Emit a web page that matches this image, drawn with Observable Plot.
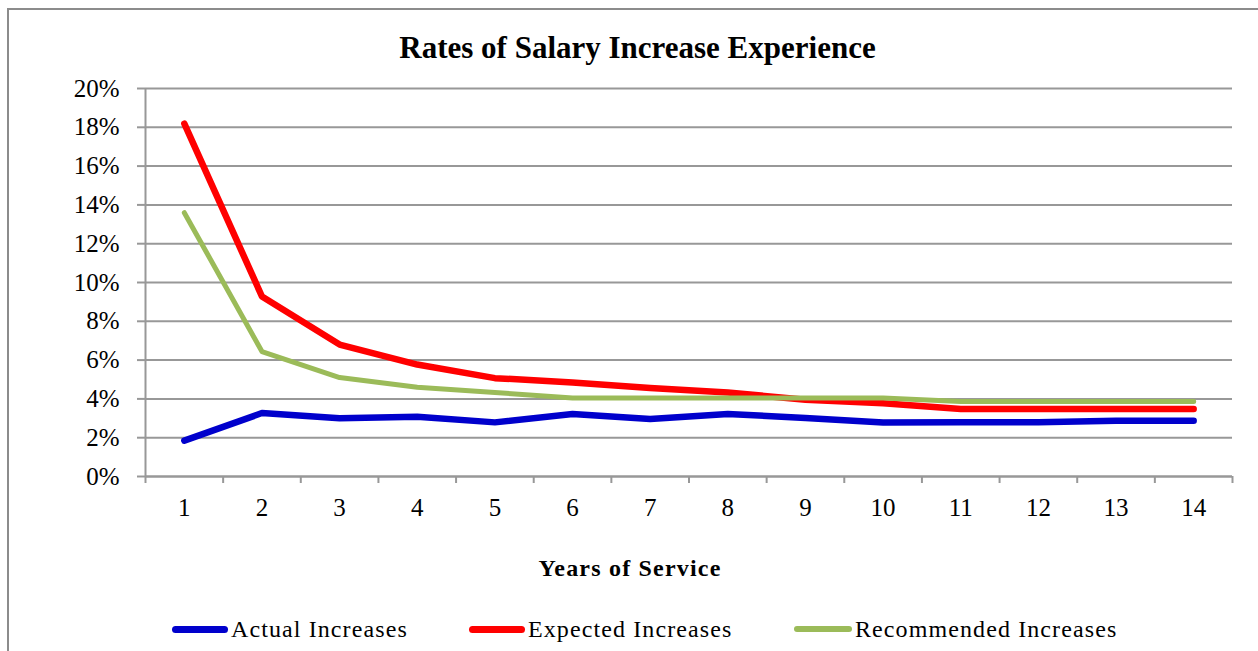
<!DOCTYPE html>
<html>
<head>
<meta charset="utf-8">
<script src="https://cdn.jsdelivr.net/npm/d3@7"></script>
<script src="https://cdn.jsdelivr.net/npm/@observablehq/plot@0.6"></script>
<style>
  html, body { margin: 0; padding: 0; background: #fff; overflow: hidden; }
  body { width: 1258px; height: 651px; position: relative; font-family: "Liberation Serif", "Times New Roman", serif; }
  #border { position: absolute; left: 7px; top: 8px; width: 1270px; height: 700px; border: 2px solid #8c8c8c; box-sizing: border-box; }
  #title { position: absolute; left: 0; width: 1275px; top: 29px; text-align: center; font-weight: bold; font-size: 31px; line-height: 38px; color: #000; }
  #chart { position: absolute; left: 0; top: 70px; }
  #legend { position: absolute; top: 614px; left: 0; height: 30px; font-size: 24px; color: #000; }
  .item { position: absolute; top: 0; white-space: nowrap; display: flex; align-items: center; height: 30px; }
  .tx { letter-spacing: 1.1px; }
  .sw { display: inline-block; height: 7px; border-radius: 4px; margin-right: 3px; }
</style>
</head>
<body>
<div id="border"></div>
<div id="title">Rates of Salary Increase Experience</div>
<div id="chart"></div>
<div id="legend"></div>
<script>
const years = [1, 2, 3, 4, 5, 6, 7, 8, 9, 10, 11, 12, 13, 14];
const actual = [0.0185, 0.0327, 0.0300, 0.0308, 0.0279, 0.0322, 0.0297, 0.0322, 0.0302, 0.0278, 0.0279, 0.0279, 0.0288, 0.0288];
const expected = [0.1819, 0.0928, 0.0680, 0.0577, 0.0507, 0.0485, 0.0456, 0.0433, 0.0396, 0.0377, 0.0348, 0.0348, 0.0348, 0.0348];
const recommended = [0.1360, 0.0644, 0.0510, 0.0460, 0.0433, 0.0405, 0.0405, 0.0405, 0.0405, 0.0405, 0.0386, 0.0386, 0.0386, 0.0386];
const seriesNames = ["Actual Increases", "Expected Increases", "Recommended Increases"];
const seriesColors = ["#0000CC", "#FF0000", "#9BBB59"];
const seriesWidths = [6.5, 6.5, 5];
const yTicks = [0, 0.02, 0.04, 0.06, 0.08, 0.10, 0.12, 0.14, 0.16, 0.18, 0.20];
const xLabel = "Years of Service";

const seriesValues = [actual, expected, recommended];
const rows = [];
seriesNames.forEach((name, i) => {
  years.forEach((yr, j) => rows.push({ series: name, year: yr, value: seriesValues[i][j] }));
});
const xDomain = [years[0] - 0.5, years[years.length - 1] + 0.5];
const boundaries = years.map(d => d - 0.5).concat([years[years.length - 1] + 0.5]);
const gridColor = "#989898";
const font = "'Liberation Serif', 'Times New Roman', serif";

const plot = Plot.plot({
  width: 1258,
  height: 530,
  marginLeft: 145,
  marginRight: 26,
  marginTop: 18,
  marginBottom: 124,
  style: { fontFamily: font, fontSize: "25px", color: "#000", background: "transparent" },
  x: { domain: xDomain },
  y: { domain: [yTicks[0], yTicks[yTicks.length - 1]] },
  marks: [
    Plot.gridY(yTicks, { stroke: gridColor, strokeOpacity: 1, strokeWidth: 2 }),
    Plot.ruleX([xDomain[0]], { stroke: gridColor, strokeWidth: 2 }),
    Plot.ruleY([yTicks[0]], { stroke: gridColor, strokeWidth: 2 }),
    Plot.axisY({ ticks: yTicks, tickFormat: d3.format(".0%"), tickSize: 8, tickPadding: 18, stroke: gridColor, strokeWidth: 2, label: null, fontSize: 25 }),
    Plot.axisX({ ticks: boundaries, tickSize: 7, tickFormat: () => "", stroke: gridColor, strokeWidth: 2, label: null }),
    Plot.axisX({ ticks: years, tickSize: 0, tickPadding: 22, tickFormat: d => String(d), label: xLabel, labelAnchor: "center", labelOffset: 99, fontSize: 25 }),
    Plot.line(rows, {
      x: "year", y: "value", z: "series",
      stroke: d => seriesColors[seriesNames.indexOf(d.series)],
      strokeWidth: d => seriesWidths[seriesNames.indexOf(d.series)],
      strokeLinecap: "round", strokeLinejoin: "round"
    })
  ]
});
document.getElementById("chart").appendChild(plot);

// Axis label: bold, without the automatic arrow, centred on the chart box like the reference
plot.querySelectorAll("text").forEach(t => {
  if (t.textContent.trim().startsWith(xLabel)) {
    t.textContent = xLabel;
    t.setAttribute("font-weight", "bold");
    t.setAttribute("font-size", "24");
    t.setAttribute("letter-spacing", "1.2");
    t.setAttribute("dx", "-59");
  }
});

const legend = document.getElementById("legend");
const lefts = [172, 469, 794];
const swW = [56, 56, 58];
seriesNames.forEach((name, i) => {
  const it = document.createElement("div");
  it.className = "item";
  it.style.left = lefts[i] + "px";
  const sw = document.createElement("span");
  sw.className = "sw";
  sw.style.width = swW[i] + "px";
  sw.style.background = seriesColors[i];
  if (i === 2) sw.style.height = "6px";
  const tx = document.createElement("span");
  tx.className = "tx";
  tx.textContent = name;
  it.appendChild(sw); it.appendChild(tx);
  legend.appendChild(it);
});
</script>
</body>
</html>
